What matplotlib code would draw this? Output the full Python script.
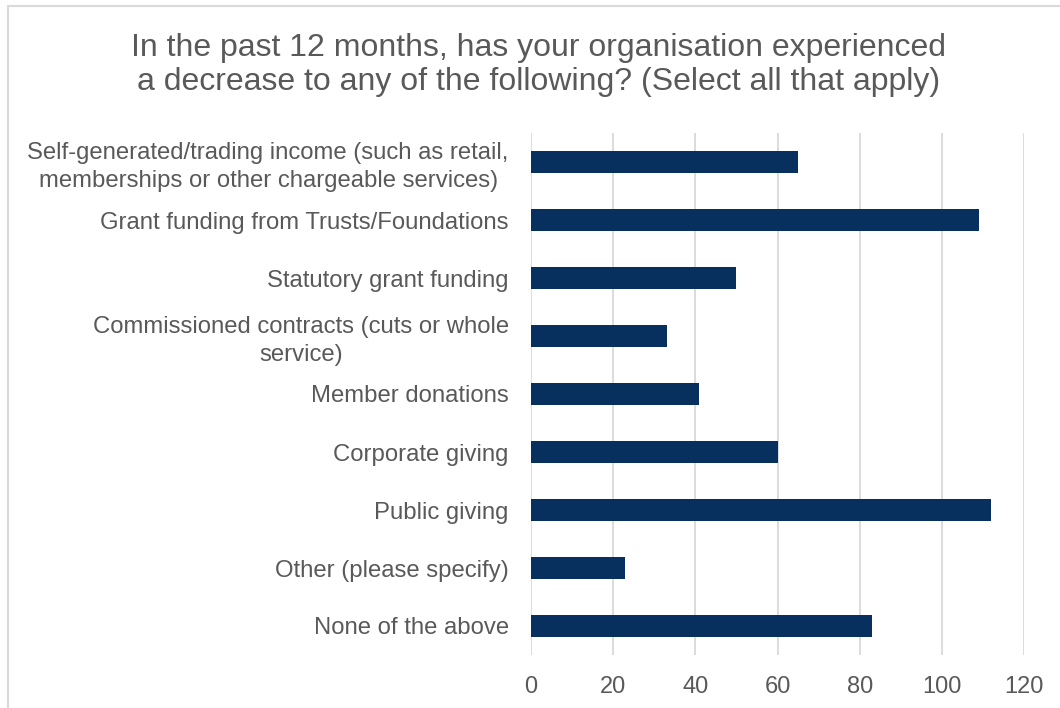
import matplotlib
matplotlib.use("Agg")
import matplotlib.pyplot as plt
from matplotlib.patches import Rectangle

plt.rcParams["font.family"] = ["Liberation Sans", "DejaVu Sans"]

categories = [
    "Self-generated/trading income (such as retail,\nmemberships or other chargeable services)",
    "Grant funding from Trusts/Foundations",
    "Statutory grant funding",
    "Commissioned contracts (cuts or whole\nservice)",
    "Member donations",
    "Corporate giving",
    "Public giving",
    "Other (please specify)",
    "None of the above",
]
values = [65, 109, 50, 33, 41, 60, 112, 23, 83]
x_ticks = [0, 20, 40, 60, 80, 100, 120]
title = ("In the past 12 months, has your organisation experienced\n"
         "a decrease to any of the following? (Select all that apply)")

bar_color = "#08305F"
text_color = "#595959"
grid_color = "#D9D9D9"

fig = plt.figure(figsize=(10.6, 7.08), dpi=100)
fig.patch.set_facecolor("white")

# chart-area frame (only top and left edges fall inside the canvas)
fig.add_artist(Rectangle((8 / 1060, -0.1), 1.2, (708 - 6.5) / 708 + 0.1,
                         transform=fig.transFigure, fill=False,
                         edgecolor="#D9D9D9", linewidth=1.5))

ax = fig.add_axes([531 / 1060, (708 - 655) / 708, (1024 - 531) / 1060, (655 - 133) / 708])

ypos = list(range(len(categories)))
ax.barh(ypos, values, height=0.37, color=bar_color, zorder=3)
ax.set_ylim(len(categories) - 0.5, -0.5)
ax.set_xlim(0, 120)
ax.set_xticks(x_ticks)
ax.set_xticklabels([str(t) for t in x_ticks])
ax.set_yticks(ypos)
ax.set_yticklabels(categories, multialignment="center", linespacing=1.35)

ax.grid(axis="x", color=grid_color, linewidth=1.3, zorder=0)
for s in ax.spines.values():
    s.set_visible(False)
ax.tick_params(axis="both", length=0, colors=text_color)
ax.tick_params(axis="y", labelsize=17.2, pad=16)
ax.tick_params(axis="x", labelsize=17, pad=15)

fig.text(538.5 / 1060, (708 - 65) / 708, title, ha="center", va="center",
         fontsize=23, color=text_color, linespacing=1.17)

fig.savefig("out.png", dpi=100)
